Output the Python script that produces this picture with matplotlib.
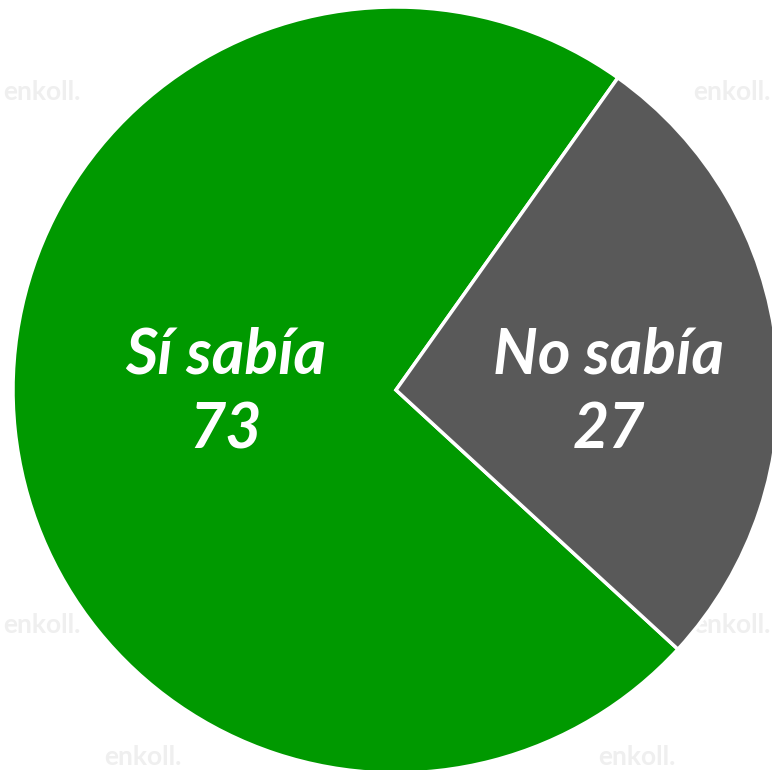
import matplotlib.pyplot as plt

# data
labels = ["Sí sabía", "No sabía"]
values = [73, 27]
colors = ["#009900", "#595959"]

# faint watermark text positions (pixels, top-left origin)
wm_pos = [(42, 92), (732, 92), (42, 625), (732, 625), (143, 757), (637, 757)]

W, H = 772, 770
fig = plt.figure(figsize=(W / 100, H / 100), dpi=100)
ax = fig.add_axes([0, 0, 1, 1])

cx, cy, r = 396, 390, 383
wedges, _ = ax.pie(values, colors=colors, startangle=54.6, counterclock=True,
                   radius=r, center=(cx, H - cy),
                   wedgeprops=dict(edgecolor="white", linewidth=2.5))
for w in wedges:
    w.set_zorder(1)

ax.set_xlim(0, W)
ax.set_ylim(0, H)
ax.set_aspect("equal")
ax.axis("off")

for x, y in wm_pos:
    ax.text(x, H - y, "enkoll.", color="#efefef", fontsize=19, fontweight="bold",
            family="Lato", ha="center", va="center", zorder=0)

font = dict(family="Lato", fontsize=45, fontweight="bold", style="italic",
            color="white", ha="center", va="center", zorder=3)
ax.text(226, H - 355, labels[0], **font)
ax.text(226, H - 430, str(values[0]), **font)
ax.text(609, H - 355, labels[1], **font)
ax.text(609, H - 430, str(values[1]), **font)

fig.savefig("out.png", dpi=100)
